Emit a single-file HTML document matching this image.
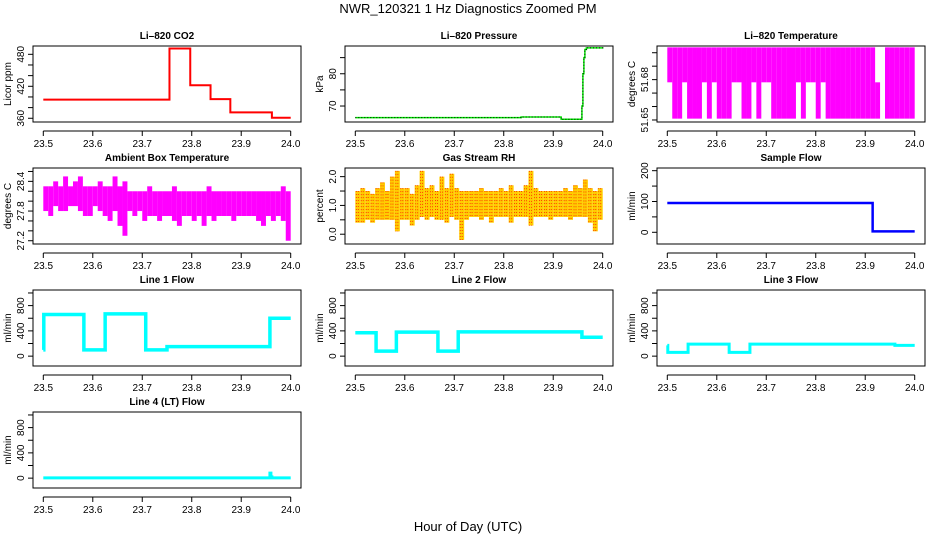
<!DOCTYPE html>
<html><head><meta charset="utf-8"><style>
html,body{margin:0;padding:0;background:#fff;}
svg{display:block;font-family:"Liberation Sans",sans-serif;}
</style></head><body>
<svg id="chart" width="936" height="540" viewBox="0 0 936 540" xmlns="http://www.w3.org/2000/svg">
<text x="468" y="13" text-anchor="middle" font-size="13">NWR_120321  1 Hz Diagnostics Zoomed PM</text>
<text x="468" y="531" text-anchor="middle" font-size="13">Hour of Day (UTC)</text>
</svg>
<script>
// ---- data ----
const xTicks = [23.5, 23.6, 23.7, 23.8, 23.9, 24.0];
const xTickLabels = ["23.5", "23.6", "23.7", "23.8", "23.9", "24.0"];
const binStart = 23.5, binWidth = 0.01;

const co2Times = [23.5, 23.755, 23.797, 23.838, 23.878, 23.962, 24.0];
const co2Values = [395, 491, 422, 396, 371, 361, 361];

const pressTimes = [23.5, 23.835, 23.916, 23.958, 23.960, 23.962, 23.964, 23.967, 24.0];
const pressValues = [66.4, 66.6, 65.9, 70, 80, 85, 87.5, 88, 87.8];

const liTempMax = [51.704,51.704,51.704,51.704,51.704,51.704,51.704,51.704,51.704,51.704,51.704,51.704,51.704,51.704,51.704,51.704,51.704,51.704,51.704,51.704,51.704,51.704,51.704,51.704,51.704,51.704,51.704,51.704,51.704,51.704,51.704,51.704,51.704,51.704,51.704,51.704,51.704,51.704,51.704,51.704,51.704,51.704,51.678,51.678,51.704,51.704,51.704,51.704,51.704,51.704];
const liTempMin = [51.678,51.651,51.651,51.678,51.651,51.651,51.651,51.678,51.651,51.678,51.651,51.651,51.651,51.678,51.678,51.651,51.651,51.678,51.651,51.678,51.678,51.651,51.651,51.651,51.651,51.651,51.678,51.651,51.678,51.678,51.651,51.678,51.651,51.651,51.651,51.651,51.651,51.651,51.651,51.651,51.651,51.651,51.651,51.678,51.651,51.651,51.651,51.651,51.651,51.651];

const ambMax = [28.3,28.3,28.4,28.3,28.5,28.3,28.4,28.5,28.3,28.3,28.3,28.4,28.3,28.3,28.5,28.3,28.4,28.2,28.2,28.2,28.2,28.3,28.2,28.2,28.2,28.2,28.3,28.2,28.2,28.2,28.2,28.2,28.2,28.3,28.2,28.2,28.2,28.2,28.2,28.2,28.2,28.2,28.2,28.2,28.2,28.2,28.2,28.2,28.3,28.2];
const ambMin = [27.8,27.7,27.9,27.8,27.8,27.9,27.9,27.8,27.7,27.7,27.9,27.8,27.7,27.6,27.8,27.5,27.3,27.8,27.7,27.8,27.6,27.7,27.7,27.6,27.7,27.7,27.6,27.5,27.7,27.7,27.6,27.7,27.5,27.7,27.6,27.7,27.7,27.7,27.6,27.7,27.7,27.7,27.7,27.6,27.5,27.7,27.6,27.7,27.6,27.2];

const rhMax = [1.5,1.6,1.5,1.4,1.6,1.8,1.5,2.0,2.2,1.6,1.6,1.4,1.7,2.2,1.6,1.7,1.5,2.0,1.6,2.1,1.6,1.5,1.5,1.5,1.5,1.6,1.5,1.5,1.5,1.6,1.5,1.7,1.5,1.5,1.7,2.2,1.6,1.5,1.5,1.5,1.5,1.5,1.6,1.5,1.7,1.6,1.9,1.6,1.5,1.6];
const rhMin = [0.4,0.4,0.5,0.4,0.5,0.5,0.5,0.5,0.1,0.5,0.5,0.3,0.5,0.6,0.5,0.6,0.5,0.5,0.4,0.6,0.5,-0.2,0.5,0.6,0.6,0.5,0.6,0.4,0.6,0.6,0.6,0.4,0.6,0.6,0.6,0.3,0.6,0.6,0.6,0.5,0.6,0.6,0.6,0.5,0.6,0.6,0.6,0.4,0.1,0.5];

const sampleTimes = [23.5, 23.915, 24.0];
const sampleValues = [95, 3, 3];

const line1Times = [23.5, 23.501, 23.582, 23.625, 23.707, 23.75, 23.958, 24.0];
const line1Values = [100, 660, 100, 670, 100, 150, 600, 600];
const line2Times = [23.5, 23.542, 23.583, 23.667, 23.708, 23.958, 24.0];
const line2Values = [370, 80, 380, 80, 385, 300, 300];
const line3Times = [23.5, 23.501, 23.542, 23.625, 23.667, 23.96, 24.0];
const line3Values = [170, 60, 190, 60, 190, 170, 170];
const line4Times = [23.5, 23.958, 23.96, 23.962, 24.0];
const line4Values = [5, 80, 20, 5, 5];

// ---- layout ----
const NS = "http://www.w3.org/2000/svg";
const svg = document.getElementById('chart');
const colX = [33, 345, 657], boxW = 268, rowY = [46, 168, 290, 412], boxH = 76;
function mk(tag, attrs, parent) {
  const e = document.createElementNS(NS, tag);
  for (const k in attrs) e.setAttribute(k, attrs[k]);
  (parent || svg).appendChild(e);
  return e;
}
function panel(col, row, name, title, ylab, dom, ticks, labels) {
  const g = mk('g', {});
  
  
  const x0 = colX[col], y0 = rowY[row];
  const xs = v => x0 + 10.3 + (v - 23.5) / 0.5 * (boxW - 20.6);
  const ys = v => y0 + boxH - (v - dom[0]) / (dom[1] - dom[0]) * boxH;
  const box = mk('rect', {x: x0, y: y0, width: boxW, height: boxH, fill: 'none', stroke: '#000', 'stroke-width': 1}, g);
  
  
  const t = mk('text', {x: x0 + boxW / 2, y: y0 - 7, 'text-anchor': 'middle', 'font-size': 10, 'font-weight': 'bold'}, g);
  t.textContent = title;
  
  
  const ax = mk('g', {}, g);
  
  
  const ay = y0 + boxH + 9;
  mk('line', {x1: xs(23.5), x2: xs(24), y1: ay, y2: ay, stroke: '#000'}, ax);
  xTicks.forEach((v, i) => {
    mk('line', {x1: xs(v), x2: xs(v), y1: ay, y2: ay + 5, stroke: '#000'}, ax);
    const l = mk('text', {x: xs(v), y: ay + 16, 'text-anchor': 'middle', 'font-size': 10}, ax);
    l.textContent = xTickLabels[i];
  });
  const yax = mk('g', {}, g);
  
  
  mk('line', {x1: x0, x2: x0, y1: ys(ticks[0]), y2: ys(ticks[ticks.length - 1]), stroke: '#000'}, yax);
  ticks.forEach((v, i) => {
    mk('line', {x1: x0 - 5, x2: x0, y1: ys(v), y2: ys(v), stroke: '#000'}, yax);
    if (labels[i]) {
      const l = mk('text', {x: 0, y: 0, 'text-anchor': 'middle', 'font-size': 10, transform: `translate(${x0 - 9},${ys(v)}) rotate(-90)`}, yax);
      l.textContent = labels[i];
    }
  });
  const yl = mk('text', {x: 0, y: 0, 'text-anchor': 'middle', 'font-size': 10, transform: `translate(${x0 - 22},${y0 + boxH / 2}) rotate(-90)`}, g);
  yl.textContent = ylab;
  
  
  return {g, xs, ys};
}
function steps(p, name, times, vals, color, w, dash) {
  let d = '';
  for (let i = 0; i < times.length; i++) {
    const x = p.xs(times[i]), y = p.ys(vals[i]);
    if (i === 0) d += `M${x},${y}`;
    else d += `H${x}V${y}`;
  }
  d += `H${p.xs(24)}`;
  const a = {d, fill: 'none', stroke: color, 'stroke-width': w};
  if (dash) a['stroke-dasharray'] = dash;
  const e = mk('path', a, p.g);
  
  
  return e;
}
function bins(p, name, mins, maxs, color, dash) {
  const grp = mk('g', {}, p.g);
  
  
  for (let i = 0; i < mins.length; i++) {
    const xa = p.xs(binStart + i * binWidth), xb = p.xs(binStart + (i + 1) * binWidth);
    const ya = p.ys(maxs[i]), yb = p.ys(mins[i]);
    const r = mk('rect', {x: xa, y: ya, width: xb - xa, height: yb - ya, fill: color}, grp);
    
    
    if (dash) {
      const n = Math.floor((xb - xa) / 2);
      for (let k = 0; k < n; k++) {
        mk('line', {x1: xa + 1 + k * 2, x2: xa + 1 + k * 2, y1: ya, y2: yb, stroke: dash, 'stroke-width': 0.8, 'stroke-dasharray': '1 2'}, grp);
      }
    }
  }
}
const flowTicks = [0, 200, 400, 600, 800, 1000], flowLabels = ["0", "", "400", "", "800", ""];
const flowDom = [-156, 1047];

let p = panel(0, 0, 'co2', 'Li–820 CO2', 'Licor ppm', [353, 495.6], [360, 380, 400, 420, 440, 460, 480], ["360", "", "", "420", "", "", "480"]);
steps(p, 'co2-line', co2Times, co2Values, '#ff0000', 2);

p = panel(1, 0, 'pressure', 'Li–820 Pressure', 'kPa', [65.05, 88.6], [70, 75, 80, 85], ["70", "", "80", ""]);
steps(p, 'pressure-line', pressTimes, pressValues, '#00ee00', 1.5);
steps(p, 'pressure-dotted-line', pressTimes, pressValues, '#000', 1, '1 2');

p = panel(2, 0, 'li820-temp', 'Li–820 Temperature', 'degrees C', [51.6485, 51.705], [51.65, 51.66, 51.67, 51.68, 51.69, 51.70], ["51.65", "", "", "51.68", "", ""]);
bins(p, 'li820-temp-series', liTempMin, liTempMax, '#ff00ff');

p = panel(0, 1, 'ambient-temp', 'Ambient Box Temperature', 'degrees C', [27.134, 28.67], [27.2, 27.4, 27.6, 27.8, 28.0, 28.2, 28.4, 28.6], ["27.2", "", "", "27.8", "", "", "28.4", ""]);
bins(p, 'ambient-temp-series', ambMin, ambMax, '#ff00ff');

p = panel(1, 1, 'rh', 'Gas Stream RH', 'percent', [-0.34, 2.3], [0, 0.5, 1.0, 1.5, 2.0], ["0.0", "", "1.0", "", "2.0"]);
bins(p, 'rh-series', rhMin, rhMax, '#ffcc00', '#ff2000');

p = panel(2, 1, 'sample-flow', 'Sample Flow', 'ml/min', [-38, 208.7], [0, 50, 100, 150, 200], ["0", "", "100", "", "200"]);
steps(p, 'sample-flow-line', sampleTimes, sampleValues, '#0000ff', 2.5);

p = panel(0, 2, 'line1-flow', 'Line 1 Flow', 'ml/min', flowDom, flowTicks, flowLabels);
steps(p, 'line1-flow-line', line1Times, line1Values, '#00ffff', 3.5);
p = panel(1, 2, 'line2-flow', 'Line 2 Flow', 'ml/min', flowDom, flowTicks, flowLabels);
steps(p, 'line2-flow-line', line2Times, line2Values, '#00ffff', 3.5);
p = panel(2, 2, 'line3-flow', 'Line 3 Flow', 'ml/min', flowDom, flowTicks, flowLabels);
steps(p, 'line3-flow-line', line3Times, line3Values, '#00ffff', 3);
p = panel(0, 3, 'line4-flow', 'Line 4 (LT) Flow', 'ml/min', flowDom, flowTicks, flowLabels);
steps(p, 'line4-flow-line', line4Times, line4Values, '#00ffff', 3);
</script>
</body></html>
